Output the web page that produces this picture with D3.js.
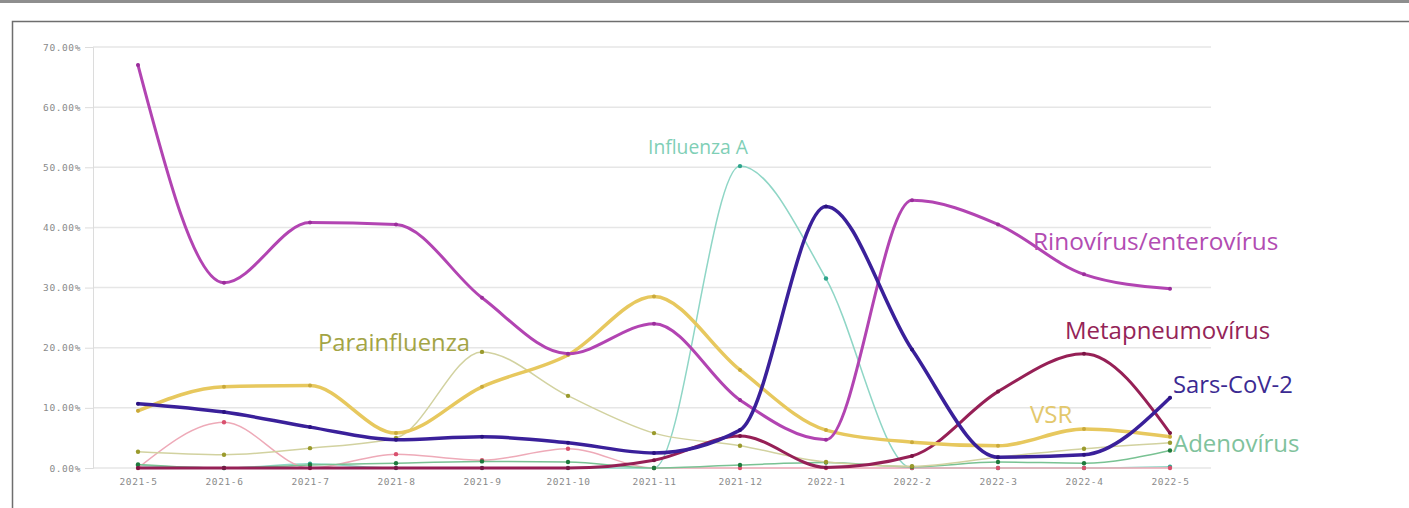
<!DOCTYPE html>
<html><head><meta charset="utf-8">
<script src="https://cdn.jsdelivr.net/npm/d3@7"></script>
<style>
html,body{margin:0;padding:0;background:#fff;}
svg{display:block;}
</style></head>
<body>
<svg id="chart" width="1409" height="508"></svg>
<script>
const months = ["2021-5","2021-6","2021-7","2021-8","2021-9","2021-10","2021-11","2021-12","2022-1","2022-2","2022-3","2022-4","2022-5"];
const yTicks = [0,10,20,30,40,50,60,70];

const rinovirus      = [67.0,30.8,40.8,40.5,28.3,19.0,24.0,11.3,4.7,44.5,40.5,32.2,29.8];
const vsr            = [9.5,13.5,13.7,5.8,13.5,18.8,28.5,16.3,6.3,4.3,3.7,6.5,5.2];
const sarsCov2       = [10.7,9.3,6.8,4.7,5.2,4.2,2.5,6.3,43.5,19.7,1.8,2.2,11.7];
const metapneumo     = [0,0,0,0,0,0,1.3,5.3,0.1,2.0,12.7,19.0,5.8];
const influenzaA     = [0.4,0,0.7,0,0,0,0,50.2,31.5,0,0,0,0.2];
const parainfluenza  = [2.7,2.2,3.3,5.0,19.3,12.0,5.8,3.7,1.0,0.3,1.8,3.2,4.2];
const adenovirus     = [0.6,0,0.5,0.8,1.1,1.0,0,0.5,0.9,0.2,1.0,0.8,2.9];
const otherPink      = [0,7.6,0,2.3,1.3,3.2,0,0,0,0,0,0,0];

const seriesList = [
  {name:"Influenza A", values:influenzaA, color:"#8fd6c6", dot:"#2fa58c", w:1.5},
  {name:"Outro", values:otherPink, color:"#eeaab8", dot:"#d9506e", w:1.5},
  {name:"Adenovírus", values:adenovirus, color:"#79c293", dot:"#1d7a3c", w:1.5},
  {name:"Parainfluenza", values:parainfluenza, color:"#d2d2a0", dot:"#9a9a2c", w:1.5},
  {name:"Metapneumovírus", values:metapneumo, color:"#962056", dot:"#7a1444", w:3},
  {name:"VSR", values:vsr, color:"#e7c85e", dot:"#c9a93a", w:3.5},
  {name:"Rinovírus/enterovírus", values:rinovirus, color:"#b244b2", dot:"#9a2e9a", w:3},
  {name:"Sars-CoV-2", values:sarsCov2, color:"#3a209a", dot:"#2a1280", w:3.5}
];

const labels = [
  {text:"Influenza A", x:648, y:154, size:19.3, color:"#7fcfb6"},
  {text:"Rinovírus/enterovírus", x:1033, y:250, size:24.4, color:"#b24cb2"},
  {text:"Metapneumovírus", x:1065, y:339, size:24, color:"#942457"},
  {text:"Sars-CoV-2", x:1173, y:393, size:23.8, color:"#3b2a92"},
  {text:"VSR", x:1030, y:423, size:24, color:"#e3c86c"},
  {text:"Adenovírus", x:1173, y:452, size:24, color:"#7fc29c"},
  {text:"Parainfluenza", x:318, y:351, size:23.8, color:"#a3a445"}
];

const svg = d3.select("#chart");

// frame
svg.append("rect").attr("x",0).attr("y",0).attr("width",1409).attr("height",3).attr("fill","#8e8e8e");
svg.append("path").attr("d","M12.5,508 L12.5,21.5 L1409,21.5").attr("fill","none").attr("stroke","#6e6e6e").attr("stroke-width",1.5);

const x = d3.scalePoint().domain(months).range([138,1170]);
const y = d3.scaleLinear().domain([0,70]).range([468,47]);

const gridLeft = 93, gridRight = 1211;

// gridlines
svg.append("g").selectAll("line").data(yTicks).join("line")
  .attr("x1",gridLeft).attr("x2",gridRight)
  .attr("y1",d=>y(d)).attr("y2",d=>y(d))
  .attr("stroke","#e6e6e6").attr("stroke-width",1.5);

// y axis
const yAxis = d3.axisLeft(y).tickValues(yTicks).tickSize(8).tickPadding(4)
  .tickFormat(d=>d.toFixed(2)+"%");
const gy = svg.append("g").attr("transform",`translate(${gridLeft},0)`).call(yAxis);
gy.select(".domain").attr("stroke","#dcdcdc");
gy.selectAll(".tick line").attr("stroke","#dcdcdc");
gy.selectAll("text").attr("font-family","DejaVu Sans Mono").attr("font-size",9.5)
  .attr("letter-spacing",0.6).attr("fill","#8a8a8a");

// x axis
const xAxis = d3.axisBottom(x).tickSize(0).tickPadding(10);
const gx = svg.append("g").attr("transform",`translate(0,${y(0)})`).call(xAxis);
gx.select(".domain").remove();
gx.selectAll("text").attr("font-family","DejaVu Sans Mono").attr("font-size",9.5)
  .attr("letter-spacing",0.6).attr("fill","#8a8a8a");

// lines
const line = d3.line().x((d,i)=>x(months[i])).y(d=>y(d)).curve(d3.curveMonotoneX);
const gl = svg.append("g");
seriesList.forEach(s=>{
  gl.append("path").datum(s.values).attr("d",line)
    .attr("fill","none").attr("stroke",s.color).attr("stroke-width",s.w)
    .attr("stroke-linejoin","round").attr("stroke-linecap","round");
  gl.append("g").selectAll("circle").data(s.values).join("circle")
    .attr("cx",(d,i)=>x(months[i])).attr("cy",d=>y(d)).attr("r",s.w>2?2:2.2)
    .attr("fill",s.dot);
});

// labels
svg.append("g").selectAll("text").data(labels).join("text")
  .attr("x",d=>d.x).attr("y",d=>d.y)
  .attr("font-family","Open Sans").attr("font-size",d=>d.size)
  .attr("fill",d=>d.color).text(d=>d.text);
</script>
</body></html>
